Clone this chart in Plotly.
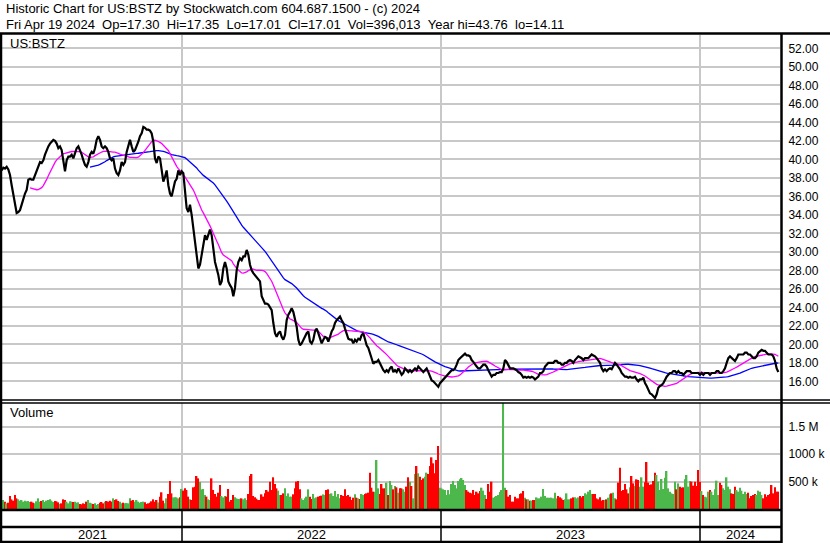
import plotly.graph_objects as go
import pandas as pd

# ---------------- data ----------------
# closing prices, one sample per ~1.7 trading days, from spring 2021 to Apr 19 2024
closes = [
    38.8, 39.1, 39.0, 39.2, 38.9, 38.3, 37.2, 36.1, 35.1, 34.2, 34.3, 34.5, 35.1, 35.8, 36.3, 36.7,
    37.8, 37.9, 37.8, 37.8, 38.3, 38.7, 39.2, 39.7, 39.6, 39.9, 40.5, 41.0, 41.4, 41.7, 41.9, 42.1,
    42.0, 41.7, 41.2, 41.4, 41.0, 39.7, 38.7, 39.9, 40.3, 40.3, 40.5, 40.1, 40.6, 41.2, 41.4, 41.0,
    40.5, 39.9, 39.4, 39.2, 39.7, 40.5, 40.8, 40.6, 41.2, 42.1, 42.5, 42.1, 41.4, 41.2, 41.4, 41.2,
    40.8, 40.1, 39.9, 40.1, 39.0, 38.5, 38.3, 38.8, 39.7, 39.4, 39.7, 40.8, 41.4, 42.1, 41.4, 40.8,
    41.0, 41.4, 41.9, 42.5, 42.8, 43.5, 43.4, 43.2, 43.2, 43.1, 42.8, 41.9, 40.1, 39.6, 40.3, 40.1,
    39.0, 37.6, 38.1, 38.8, 37.2, 36.3, 36.0, 36.7, 37.6, 37.9, 38.8, 38.3, 38.7, 38.5, 36.5, 34.7,
    34.3, 35.1, 34.0, 32.7, 31.1, 30.0, 28.2, 28.6, 29.7, 31.1, 31.8, 31.3, 31.8, 32.4, 31.8, 30.0,
    28.9, 28.2, 27.5, 26.4, 26.8, 28.2, 28.9, 28.2, 26.8, 26.4, 26.1, 25.2, 26.1, 28.0, 28.9, 29.3,
    29.1, 29.5, 29.5, 30.2, 29.7, 28.6, 28.0, 27.7, 27.5, 27.3, 27.1, 26.8,
    25.2, 24.8, 24.4, 24.4, 24.3, 24.0, 23.7, 22.3, 21.2, 20.8, 21.2, 21.4, 20.8, 20.5, 21.0, 22.6,
    23.2, 23.5, 23.9, 23.5, 22.8, 21.9, 20.5, 19.9, 20.1, 20.5, 20.8, 21.2, 21.4, 20.3, 20.1, 20.5,
    21.4, 21.7, 21.2, 20.5, 20.1, 20.5, 20.8, 20.7, 20.3, 20.8, 21.4, 21.7, 22.3, 22.6, 22.8, 23.0,
    22.6, 22.3, 21.7, 21.2, 20.6, 20.5, 20.5, 20.1, 20.5, 20.3, 20.6, 20.5, 21.0, 21.2, 20.5, 19.9,
    19.6, 19.0, 18.3, 17.9, 18.1, 18.1, 18.3, 17.9, 17.6, 17.2, 17.0, 17.2, 17.0, 17.4, 17.6, 17.0,
    17.2, 17.0, 17.4, 17.0, 16.7, 16.9, 17.4, 17.2, 17.0, 17.2, 17.0, 17.2, 17.4, 17.2, 17.6, 17.4,
    17.2, 17.0, 17.2, 17.4, 17.0, 16.5, 16.1, 16.0, 15.8, 15.6, 15.4, 15.8, 16.0, 16.3, 16.5, 16.7,
    16.9, 17.0, 17.2, 17.2, 17.4, 17.8, 18.3, 18.5, 18.7, 18.8, 19.0, 18.8, 18.8, 18.7, 18.3, 18.1,
    17.8, 17.6, 17.4, 17.4, 17.6, 17.8, 17.8, 17.6, 17.2, 16.9, 16.5, 16.7, 16.7, 16.9, 16.9, 17.0,
    17.0, 17.4, 18.3, 18.1, 17.8, 17.4, 17.4, 17.4, 17.3, 17.2, 17.0,
    16.9, 16.7, 16.4, 16.5, 16.4, 16.5, 16.4, 16.5, 16.4, 16.2, 16.4, 16.5, 16.9, 16.9, 17.1, 17.6,
    17.8, 18.0, 18.0, 18.0, 18.0, 18.2, 18.2, 18.0, 18.0, 17.8, 17.8, 18.0, 18.0, 18.2, 18.3, 18.2,
    18.0, 18.3, 18.5, 18.7, 18.6, 18.5, 18.3, 18.5, 18.5, 18.5, 18.7, 18.9, 18.8, 18.7, 18.5, 18.3,
    18.0, 17.4, 17.1, 17.3, 17.1, 17.3, 17.4, 17.3, 17.6, 18.0, 17.8, 17.6, 17.3, 16.9, 16.7, 16.5,
    16.5, 16.4, 16.5, 16.4, 16.4, 16.5, 16.2, 16.0, 16.2, 16.2, 16.4, 15.8, 15.5, 15.1, 14.7, 14.6,
    14.4, 14.2, 14.6, 15.3, 15.5, 15.6, 15.8, 16.2, 16.5, 16.7, 16.9, 16.9, 17.1, 17.1, 16.9, 17.1,
    16.9, 16.9, 16.7, 16.9, 17.1, 17.1, 17.1, 16.9, 16.9, 16.9, 16.9, 16.9, 16.7, 16.9, 16.7, 16.9,
    16.9, 16.9, 16.7, 16.9, 16.9, 16.9, 17.1, 17.1, 16.9, 16.9, 17.1, 17.4, 18.0, 18.5, 18.7, 18.5,
    18.3, 18.2, 18.5, 18.9, 18.9, 18.9, 18.9, 19.1, 19.1, 18.9, 18.9, 18.7, 18.5, 18.5, 18.7, 19.1,
    19.3, 19.4, 19.3, 19.3, 19.1, 18.9, 18.9, 18.9, 18.7, 18.2, 17.4, 17.01,
]

# volume per sample, in thousands of shares
volumes_k = [
    164, 164, 134, 103, 115, 237, 176, 152, 255, 194, 176, 152, 164, 134, 152, 140,
    146, 127, 134, 115, 103, 140, 194, 134, 146, 164, 127, 152, 164, 176, 152, 127,
    146, 140, 121, 91, 103, 176, 164, 134, 103, 140, 134, 127, 134, 115, 121, 91,
    85, 103, 91, 134, 164, 115, 103, 91, 103, 73, 91, 115, 127, 103, 134, 146,
    134, 152, 134, 194, 164, 176, 146, 134, 103, 115, 103, 109, 103, 194, 152, 164,
    134, 164, 134, 115, 127, 134, 121, 91, 103, 115, 140, 176, 134, 164, 121, 225,
    304, 152, 103, 194, 273, 510, 285, 212, 212, 212, 194, 212, 364, 334, 376, 346,
    225, 176, 164, 395, 407, 601, 558, 492, 358, 364, 255, 225, 176, 164, 558, 346,
    273, 225, 297, 437, 237, 212, 237, 225, 364, 134, 164, 255, 212, 194, 182, 188,
    194, 176, 194, 164, 273, 601, 637, 237, 212, 188, 164,
    164, 267, 225, 285, 346, 316, 498, 346, 577, 455, 376, 334, 255, 255, 285, 376,
    237, 285, 225, 225, 267, 376, 498, 510, 358, 194, 164, 194, 225, 358, 225, 182,
    273, 194, 212, 225, 237, 243, 267, 255, 346, 358, 273, 285, 237, 328, 225, 273,
    194, 255, 237, 358, 237, 255, 225, 164, 206, 267, 206, 194, 182, 273, 255, 273,
    285, 297, 662, 388, 316, 316, 892, 376, 273, 455, 376, 376, 480, 255, 510, 437,
    358, 419, 395, 297, 376, 376, 358, 316, 407, 577, 498, 419, 194, 637, 783, 650,
    589, 528, 558, 589, 662, 637, 783, 941, 832, 650, 892, 1147, 388, 376, 358, 346,
    255, 346, 267, 455, 510, 437, 376, 510, 540, 565, 528, 437, 346, 316, 297, 285,
    346, 255, 316, 285, 328, 388, 334, 255, 182, 455, 316, 498, 206, 225, 237, 255,
    310, 346, 2100, 388, 346, 225, 255, 134, 134, 225, 194, 194,
    273, 285, 328, 206, 176, 176, 152, 152, 164, 164, 212, 194, 194, 225, 364, 237,
    206, 206, 206, 206, 194, 297, 194, 237, 212, 194, 164, 176, 285, 176, 176, 194,
    212, 212, 194, 212, 237, 212, 237, 285, 267, 316, 346, 273, 273, 273, 194, 176,
    212, 152, 164, 164, 176, 206, 267, 285, 297, 194, 176, 480, 753, 328, 346, 455,
    358, 285, 395, 601, 467, 419, 540, 528, 407, 577, 407, 486, 856, 480, 437, 449,
    510, 662, 619, 498, 346, 546, 364, 571, 692, 376, 316, 285, 273, 498, 358, 467,
    407, 388, 395, 540, 619, 407, 510, 498, 425, 498, 419, 710, 498, 328, 255, 225,
    212, 316, 346, 316, 255, 358, 516, 255, 480, 437, 376, 346, 577, 407, 358, 285,
    273, 407, 346, 316, 388, 334, 273, 316, 273, 297, 194, 237, 255, 273, 255, 334,
    316, 255, 194, 267, 225, 255, 273, 437, 285, 395, 316, 316,
]

year_labels = ["2021", "2022", "2023", "2024"]
year_starts = [108.2, 263.6, 419.0]       # sample index where 2022, 2023, 2024 begin
price_ticks = [16, 18, 20, 22, 24, 26, 28, 30, 32, 34, 36, 38, 40, 42, 44, 46, 48, 50, 52]
vol_ticks = [500000, 1000000, 1500000]
vol_tick_text = ["500 k", "1000 k", "1.5 M"]
ma_fast_window = 18                       # ~30 trading days
ma_slow_window = 54                       # ~90 trading days

header_line1 = "Historic Chart for US:BSTZ by Stockwatch.com 604.687.1500 - (c) 2024"
header_line2 = ("Fri Apr 19 2024\u00a0\u00a0Op=17.30\u00a0\u00a0Hi=17.35\u00a0\u00a0Lo=17.01\u00a0\u00a0"
                "Cl=17.01\u00a0\u00a0Vol=396,013\u00a0\u00a0Year hi=43.76\u00a0\u00a0lo=14.11")
symbol = "US:BSTZ"

# ---------------- derived ----------------
idx = list(range(len(closes)))
s = pd.Series(closes)
ma_fast = s.rolling(ma_fast_window).mean()
ma_slow = s.rolling(ma_slow_window).mean()
volumes = [v * 1000 for v in volumes_k]
vol_colors = []
prev_col = "#4cb84c"
for i in idx:
    if i > 0 and closes[i] < closes[i - 1]:
        prev_col = "#ff0000"
    elif i > 0 and closes[i] > closes[i - 1]:
        prev_col = "#4cb84c"
    vol_colors.append(prev_col)

W, H = 830, 543
FONT = "Liberation Sans, Arial, sans-serif"


def px_x(x):
    return x / W


def px_y(y):
    return 1 - y / H


fig = go.Figure()

fig.add_trace(go.Bar(x=idx, y=volumes, marker=dict(color=vol_colors, line=dict(width=0)),
                     xaxis="x2", yaxis="y2", showlegend=False))
fig.add_trace(go.Scatter(x=idx, y=ma_slow, mode="lines", line=dict(color="#0000ff", width=1.3),
                         showlegend=False))
fig.add_trace(go.Scatter(x=idx, y=ma_fast, mode="lines", line=dict(color="#ff00ff", width=1.3),
                         showlegend=False))
fig.add_trace(go.Scatter(x=idx, y=closes, mode="lines", line=dict(color="#000000", width=2.2),
                         showlegend=False))

grid = "#c8c8c8"
xdom = [px_x(2), px_x(780)]
xr = [0.2, len(closes)]

fig.update_layout(
    width=W, height=H,
    margin=dict(l=0, r=0, t=0, b=0),
    paper_bgcolor="white", plot_bgcolor="white",
    font=dict(family=FONT, size=12, color="black"),
    bargap=0.15,
    xaxis=dict(domain=xdom, range=xr, anchor="y", tickmode="array", tickvals=year_starts,
               showticklabels=False, showgrid=True, gridcolor=grid, gridwidth=1.5,
               zeroline=False, ticks="", showline=False),
    yaxis=dict(domain=[px_y(400), px_y(35)], range=[13.98, 53.44], side="right",
               anchor="x", tickmode="array", tickvals=price_ticks, tickformat=".2f",
               showgrid=True, gridcolor=grid, gridwidth=1.5, zeroline=False,
               ticks="outside", ticklen=5, tickcolor="rgba(0,0,0,0)",
               tickfont=dict(family=FONT, size=12, color="black")),
    xaxis2=dict(domain=xdom, range=xr, anchor="y2", matches="x", tickmode="array",
                tickvals=year_starts, showticklabels=False, showgrid=True, gridcolor=grid,
                gridwidth=1.5, zeroline=False, ticks=""),
    yaxis2=dict(domain=[px_y(509), px_y(403)], range=[0, 1930000], side="right",
                anchor="x2", tickmode="array", tickvals=vol_ticks, ticktext=vol_tick_text,
                showgrid=True, gridcolor=grid, gridwidth=1.5, zeroline=False,
                ticks="outside", ticklen=5, tickcolor="rgba(0,0,0,0)",
                tickfont=dict(family=FONT, size=12, color="black")),
)

shapes = []


def hline(y, x0, x1, w=2):
    shapes.append(dict(type="line", xref="paper", yref="paper", x0=px_x(x0), x1=px_x(x1),
                       y0=px_y(y), y1=px_y(y), line=dict(color="black", width=w)))


def vline(x, y0, y1, w=2):
    shapes.append(dict(type="line", xref="paper", yref="paper", x0=px_x(x), x1=px_x(x),
                       y0=px_y(y0), y1=px_y(y1), line=dict(color="black", width=w)))


hline(33.5, 0, 830, 2.5)
hline(400, 0, 830, 1.5)
hline(403, 0, 830, 1.5)
hline(510, 0, 782, 2.5)
hline(527, 0, 782, 2.5)
hline(542, 0, 782, 2.5)
vline(1, 33, 543, 2.5)
vline(781.5, 33, 543, 2.5)
for xs in year_starts:
    shapes.append(dict(type="line", xref="x2", yref="paper", x0=xs, x1=xs,
                       y0=px_y(511), y1=px_y(541), line=dict(color="black", width=1.5)))

annotations = [
    dict(text=header_line1, x=px_x(4), y=px_y(9), xref="paper", yref="paper",
         xanchor="left", yanchor="middle", showarrow=False, font=dict(size=13)),
    dict(text=header_line2, x=px_x(4), y=px_y(24), xref="paper", yref="paper",
         xanchor="left", yanchor="middle", showarrow=False, font=dict(size=13)),
    dict(text=symbol, x=px_x(8), y=px_y(43), xref="paper", yref="paper",
         xanchor="left", yanchor="middle", showarrow=False, font=dict(size=13)),
    dict(text="Volume", x=px_x(8), y=px_y(413), xref="paper", yref="paper",
         xanchor="left", yanchor="middle", showarrow=False, font=dict(size=13)),
]
bounds = [xr[0]] + year_starts + [xr[1]]
for i, lab in enumerate(year_labels):
    annotations.append(dict(text=lab, x=(bounds[i] + bounds[i + 1]) / 2, y=px_y(534),
                            xref="x2", yref="paper", xanchor="center", yanchor="middle",
                            showarrow=False, font=dict(size=13)))

fig.update_layout(shapes=shapes, annotations=annotations)
fig.write_html("out.html", config={"displayModeBar": False},
               post_script="document.body.style.margin='0';document.body.style.overflow='hidden';")
